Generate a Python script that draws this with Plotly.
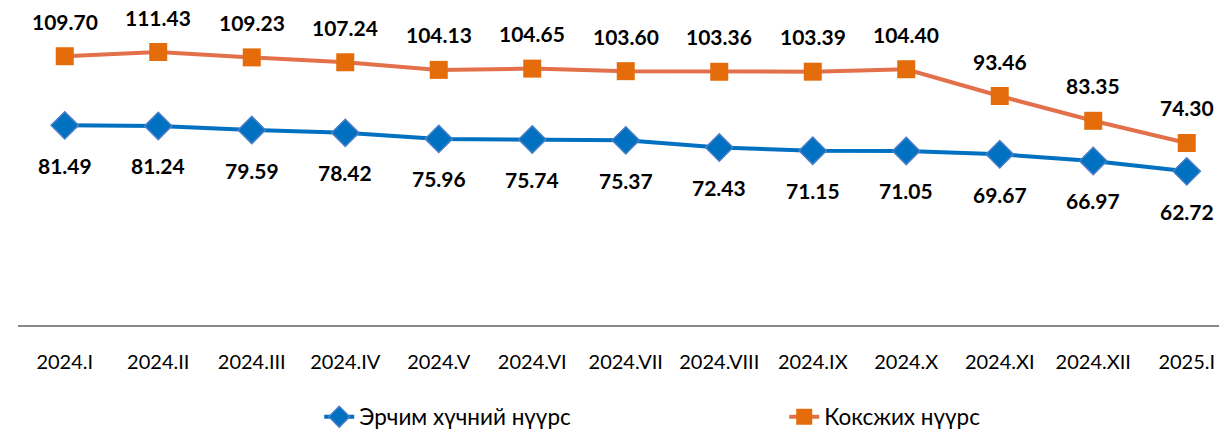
import plotly.graph_objects as go

categories = ["2024.I", "2024.II", "2024.III", "2024.IV", "2024.V", "2024.VI", "2024.VII",
              "2024.VIII", "2024.IX", "2024.X", "2024.XI", "2024.XII", "2025.I"]
energy_coal = [81.49, 81.24, 79.59, 78.42, 75.96, 75.74, 75.37, 72.43, 71.15, 71.05, 69.67, 66.97, 62.72]
coking_coal = [109.70, 111.43, 109.23, 107.24, 104.13, 104.65, 103.60, 103.36, 103.39, 104.40, 93.46, 83.35, 74.30]
series_names = ["Эрчим хүчний нүүрс", "Коксжих нүүрс"]

FONT = "Lato, 'Open Sans', sans-serif"
fig = go.Figure()
fig.add_trace(go.Scatter(
    x=categories, y=energy_coal, name=series_names[0], mode="lines+markers",
    line=dict(color="#0070C0", width=4),
    marker=dict(symbol="diamond", size=21, color="#0070C0", line=dict(color="#4A7EC7", width=1.5)),
))
fig.add_trace(go.Scatter(
    x=categories, y=coking_coal, name=series_names[1], mode="lines+markers",
    line=dict(color="#E2704A", width=4),
    marker=dict(symbol="square", size=18, color="#E46C0A"),
))

annotations = []
for c, v in zip(categories, energy_coal):
    annotations.append(dict(x=c, y=v, text=f"<b>{v:.2f}</b>", showarrow=False, yshift=-40,
                            font=dict(size=21, color="#000000", family=FONT)))
for c, v in zip(categories, coking_coal):
    annotations.append(dict(x=c, y=v, text=f"<b>{v:.2f}</b>", showarrow=False, yshift=35,
                            font=dict(size=21, color="#000000", family=FONT)))

fig.update_layout(
    width=1219, height=433,
    margin=dict(l=18, r=0, t=31, b=108, autoexpand=False),
    paper_bgcolor="white", plot_bgcolor="white",
    font=dict(family=FONT, color="#000000"),
    annotations=annotations,
    showlegend=True,
    legend=dict(orientation="h", x=0.638, xanchor="center", y=-0.24, yanchor="top",
                font=dict(size=22.5, family=FONT), entrywidth=420, entrywidthmode="pixels"),
    xaxis=dict(type="category", range=[-0.5, 12.345], showgrid=False, showline=True,
               linecolor="#898989", linewidth=2, ticks="outside", ticklen=18,
               tickcolor="rgba(0,0,0,0)", tickfont=dict(size=20, family=FONT)),
    yaxis=dict(range=[0, 120], visible=False, showgrid=False),
)
fig.write_html("out.html", config={"displayModeBar": False},
               post_script="document.body.style.margin='0';document.body.style.overflow='hidden';")
